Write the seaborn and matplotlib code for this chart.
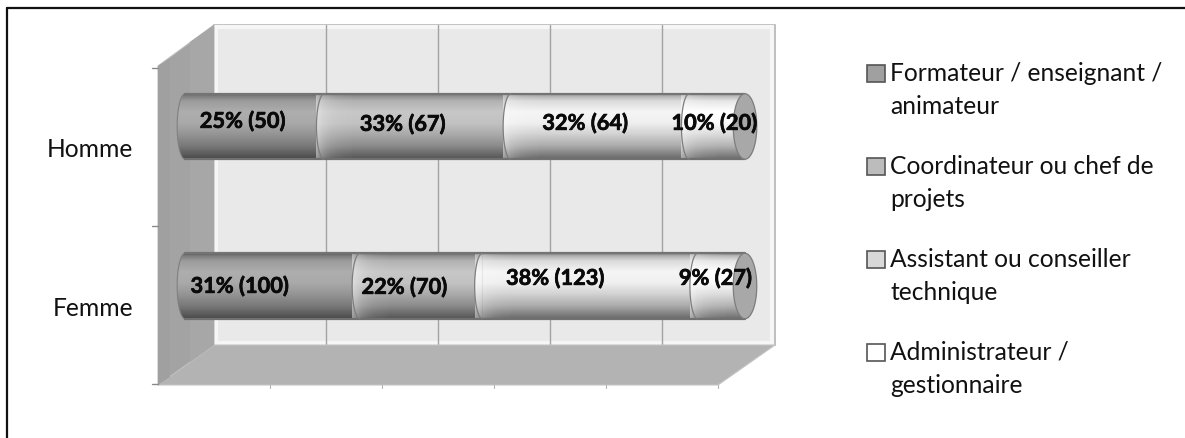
import numpy as np
import pandas as pd
import matplotlib
matplotlib.use("Agg")
import matplotlib.pyplot as plt
import matplotlib.patheffects as pe
from matplotlib.patches import Polygon, PathPatch, Rectangle
from matplotlib.path import Path
from matplotlib.lines import Line2D
from matplotlib.transforms import Affine2D
from matplotlib.legend_handler import HandlerPatch
import seaborn as sns

# ---- data ----
genres = ["Homme", "Femme"]
roles = ["Formateur / enseignant /\nanimateur", "Coordinateur ou chef de\nprojets",
         "Assistant ou conseiller\ntechnique", "Administrateur /\ngestionnaire"]
homme_counts = [50, 67, 64, 20]
femme_counts = [100, 70, 123, 27]
homme_labels = ["25% (50)", "33% (67)", "32% (64)", "10% (20)"]
femme_labels = ["31% (100)", "22% (70)", "38% (123)", "9% (27)"]
role_colors = ["#adadad", "#c6c6c6", "#f4f4f4", "#ffffff"]
legend_colors = ["#a0a0a0", "#bcbcbc", "#d8d8d8", "#ffffff"]
homme_label_shift = [(-12, 5.5), (-15, 2.5), (-15, 3.5), (-3, 3.5)]
femme_label_shift = [(-33, 0), (-17, -1), (-35, 8), (-6, 8)]

sns.set_theme(style="white")
plt.rcParams["font.family"] = ["Lato", "DejaVu Sans"]

W, H = 1185, 439
fig = plt.figure(figsize=(W / 100, H / 100), dpi=100, facecolor="white")

px = Affine2D().scale(1, -1).translate(0, H)   # image pixels -> display
AX_L, AX_R, AX_T, AX_B = 158, 775, 26, 386
ax = fig.add_axes([AX_L / W, 1 - AX_B / H, (AX_R - AX_L) / W, (AX_B - AX_T) / H])
ax.set_zorder(2)


def deco(pts, fc, ec="none", lw=0, z=0.5):
    fig.add_artist(Polygon(pts, closed=True, facecolor=fc, edgecolor=ec, linewidth=lw,
                           transform=px, zorder=z))


# ---- data table and stacked bars (cumulative, back to front) ----
df = pd.DataFrame({"genre": genres,
                   **{r: c for r, c in zip(roles, zip(homme_counts, femme_counts))}})
pct = df[roles].div(df[roles].sum(axis=1), axis=0) * 100
cum = pct.cumsum(axis=1)
cum["genre"] = df["genre"]

BAR_H = 0.41
for i in range(len(roles) - 1, -1, -1):
    sns.barplot(data=cum, x=roles[i], y="genre", order=genres, orient="h", width=BAR_H,
                color=role_colors[i], saturation=1, linewidth=0, ax=ax, zorder=3)

# scales chosen so that 0% lands at px 185, 100% at px 745, rows at px 127.5 and 287
PX_PER_PCT = 5.6
ROW = 159.5
ax.set_xlim((AX_L - 185) / PX_PER_PCT, (AX_R - 185) / PX_PER_PCT)
ax.set_ylim((AX_B - 127.5) / ROW, (AX_T - 127.5) / ROW)
ax.patch.set_alpha(0)
for s in ax.spines.values():
    s.set_visible(False)
ax.set_xlabel("")
ax.set_ylabel("")
ax.set_xticks([])
ax.set_yticks(range(len(genres)))
ax.set_yticklabels(genres, fontsize=17.7, color="#111111")
ax.tick_params(axis="y", length=0, pad=18)
for t in ax.get_yticklabels():
    t.set_transform(t.get_transform() + Affine2D().translate(0, -20))

# ---- 3D box: back wall, floor, left wall ----
gx = np.array([214, 326, 438, 550, 662, 775])
deco([(214, 26), (775, 26), (775, 346), (214, 346)], "#e9e9e9", "#b4b4b4", 1.2, 0.4)
fig.add_artist(Rectangle((216, 28), 556, 316, transform=px, fill=False, edgecolor="#f6f6f6",
                         linewidth=3, zorder=0.45))
for g in gx[1:-1]:
    fig.add_artist(Line2D([g, g], [26, 346], color="#a2a2a2", lw=1.0, transform=px, zorder=0.6))
deco([(158, 386), (214, 346), (775, 346), (718, 386)], "#b3b3b3", "#c4c4c4", 0.8, 0.7)
deco([(158, 67), (214, 26), (214, 346), (158, 386)], "#a3a3a3", "#bdbdbd", 0.8, 0.8)
deco([(158, 67), (170, 59), (170, 378), (158, 386)], "#a0a0a0", z=0.82)
deco([(190, 43), (214, 26), (214, 346), (190, 363)], "#a7a7a7", z=0.82)
for y in (69, 227, 385):
    fig.add_artist(Line2D([152, 158], [y, y], color="#8a8a8a", lw=1, transform=px, zorder=0.9))
for x in (270, 382, 494, 606, 718):
    fig.add_artist(Line2D([x, x], [386, 389], color="#b4b4b4", lw=0.8, transform=px, zorder=0.9))


# ---- cylinder details ----
def half_ellipse(xc, yc, rx, ry):
    t = np.linspace(np.pi / 2, 3 * np.pi / 2, 40)
    return np.column_stack([xc + rx * np.cos(t), yc + ry * np.sin(t)])


BULGE = 1.4
CAP = 2.1
ry = BAR_H / 2
profile_pos = [0, .04, .12, .28, .45, .62, .80, .93, 1]
profile_a = [.50, .28, .10, .0, .02, .14, .30, .48, .58]
prof = np.interp(np.linspace(0, 1, 128), profile_pos, profile_a)
rgba = np.zeros((128, 1, 4))
rgba[:, 0, 3] = prof

labels = [homme_labels, femme_labels]
shifts = [homme_label_shift, femme_label_shift]

for row, g in enumerate(genres):
    edges = [0.0] + [cum.loc[row, r] for r in roles]
    for i in range(len(roles)):
        he = half_ellipse(edges[i], row, BULGE, ry)
        ax.add_patch(Polygon(he, closed=True, facecolor=role_colors[i], edgecolor="none", zorder=4))
    t = np.linspace(-np.pi / 2, np.pi / 2, 40)
    right = np.column_stack([100 + CAP * np.cos(t), row + ry * np.sin(t)])
    left = half_ellipse(0, row, BULGE, ry)
    outline = np.vstack([right, left, right[:1]])
    clip = PathPatch(Path(outline), transform=ax.transData, facecolor="none", edgecolor="none")
    ax.add_patch(clip)
    im = ax.imshow(rgba, extent=(-BULGE, 100 + CAP, row + ry, row - ry), aspect="auto", zorder=5,
                   interpolation="bilinear")
    im.set_clip_path(clip)
    for i in range(1, 4):
        hl = np.zeros((1, 32, 4))
        hl[..., :3] = 1
        hl[0, :, 3] = 0.45 * np.exp(-np.linspace(0, 3, 32))
        him = ax.imshow(hl, extent=(edges[i] - BULGE, edges[i] + 5, row + ry, row - ry),
                        aspect="auto", zorder=5.5, interpolation="bilinear")
        him.set_clip_path(clip)
    ax.plot(left[:, 0], left[:, 1], color="#808080", lw=0.8, zorder=6)
    ax.plot([0, 100], [row - ry, row - ry], color="#747474", lw=1.6, zorder=6)
    ax.plot([0, 100], [row + ry, row + ry], color="#707070", lw=1.6, zorder=6)
    for i in range(1, 4):
        he = half_ellipse(edges[i], row, BULGE, ry)
        ax.plot(he[:, 0], he[:, 1], color="#7d7d7d", lw=0.9, zorder=6)
    t2 = np.linspace(0, 2 * np.pi, 80)
    cap = np.column_stack([100 + CAP * np.cos(t2), row + ry * np.sin(t2)])
    ax.add_patch(Polygon(cap, closed=True, facecolor="#a8a8a8", edgecolor="#7d7d7d", lw=0.9, zorder=7))
    for i, s in enumerate(labels[row]):
        ann = ax.annotate(s, ((edges[i] + edges[i + 1]) / 2, row), xytext=shifts[row][i],
                          textcoords="offset pixels", fontsize=15.7, fontweight="bold", color="#0a0a0a",
                          ha="center", va="center", zorder=10, annotation_clip=False)
        ann.set_path_effects([pe.withStroke(linewidth=0.5, foreground="#0a0a0a")])

# restore limits after imshow
ax.set_xlim((AX_L - 185) / PX_PER_PCT, (AX_R - 185) / PX_PER_PCT)
ax.set_ylim((AX_B - 127.5) / ROW, (AX_T - 127.5) / ROW)
ax.set_aspect("auto")


# ---- legend ----
def first_line_swatch(legend, orig_handle, xdescent, ydescent, width, height, fontsize):
    return Rectangle((-xdescent, -ydescent + 11.9), width, height)


handles = [Rectangle((0, 0), 1, 1, facecolor=c, edgecolor="#555555", linewidth=1.2) for c in legend_colors]
leg = fig.legend(handles, roles, loc="upper left", bbox_to_anchor=(867 / W, 1 - 62 / H),
                 frameon=False, fontsize=17.7, labelcolor="#111111",
                 handlelength=0.72, handleheight=0.72, handletextpad=0.22, labelspacing=1.485,
                 borderpad=0, borderaxespad=0,
                 handler_map={Rectangle: HandlerPatch(patch_func=first_line_swatch)})
for t in leg.get_texts():
    t.set_linespacing(1.55)

# ---- frame: top and left rules only ----
fig.add_artist(Line2D([6.5, 6.5], [8.5, H], color="#111111", lw=1.6, transform=px))
fig.add_artist(Line2D([6.5, W], [8.5, 8.5], color="#111111", lw=1.6, transform=px))

fig.savefig("out.png", dpi=100, facecolor="white")
